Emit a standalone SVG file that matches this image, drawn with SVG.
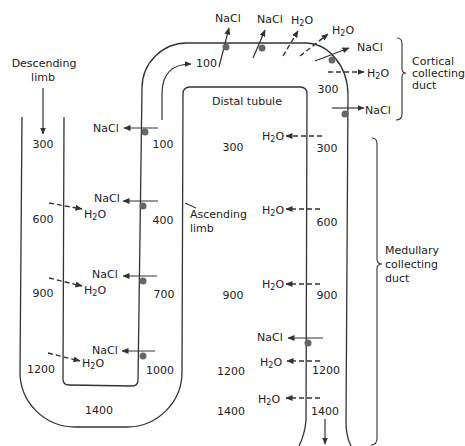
<svg xmlns="http://www.w3.org/2000/svg" width="465" height="446" viewBox="0 0 465 446">
<defs>
<marker id="ah" viewBox="0 0 7 6" markerWidth="7" markerHeight="6" refX="6.5" refY="3" orient="auto" markerUnits="userSpaceOnUse">
<path d="M0,0 L7,3 L0,6 z" fill="#333"/>
</marker>
</defs>
<style>
.wall{fill:none;stroke:#333;stroke-width:1.3}
.arr{fill:none;stroke:#333;stroke-width:1.2;marker-end:url(#ah)}
.dash{fill:none;stroke:#333;stroke-width:1.4;stroke-dasharray:5 3;marker-end:url(#ah)}
.brace{fill:none;stroke:#333;stroke-width:1.1}
.pump{fill:#666}
text{font-family:"DejaVu Sans","Liberation Sans",sans-serif;font-size:11px;fill:#222}
.m{text-anchor:middle}
.s{font-size:8px}
</style>
<rect width="465" height="446" fill="#fff"/>

<g id="tubule-walls">
<path class="wall" d="M22 117 L20 372 A55 55 0 0 0 75 427 L127 427 A55 55 0 0 0 182 372 L183 94 Q183 87 190 87 L300 87 Q307 87 307 94 L306 420 Q305 434 299 446"/>
<path class="wall" d="M64 117 L63 379 Q63 385 69 385 L132 386 Q138 386 138 380 L142 88 A45 45 0 0 1 187 43 L305 43 A43 52 0 0 1 348 95 L346 422 Q346 436 351 446"/>
</g>

<g id="braces">
<path class="brace" d="M397 38 Q402 38 402 44 L402 69 Q402 73 406 73 Q402 73 402 77 L402 114 Q402 120 396 120"/>
<path class="brace" d="M372 138 Q377 138 377 144 L377 259 Q377 264 382 264 Q377 264 377 269 L377 438 Q377 445 371 445"/>
</g>

<g id="connectors">
<line class="arr" x1="43" y1="88" x2="43" y2="134"/>
<path class="arr" d="M162 120 V94 Q162 64 191 64"/>
<line class="brace" x1="185" y1="203" x2="196" y2="208"/>
<!-- ascending limb NaCl out -->
<line class="arr" x1="158" y1="128" x2="124" y2="128"/>
<line class="arr" x1="158" y1="201" x2="123" y2="201"/>
<line class="arr" x1="157" y1="276" x2="123" y2="276"/>
<line class="arr" x1="155" y1="351" x2="122" y2="351"/>
<!-- descending limb water in -->
<line class="dash" x1="49" y1="203" x2="82" y2="209"/>
<line class="dash" x1="49" y1="278" x2="82" y2="286"/>
<line class="dash" x1="48" y1="353" x2="80" y2="361"/>
<!-- top distal -->
<line class="arr" x1="219" y1="67" x2="229" y2="28"/>
<line class="arr" x1="253" y1="58" x2="265" y2="30"/>
<line class="dash" x1="283" y1="56" x2="298" y2="31"/>
<line class="dash" x1="300" y1="56" x2="328" y2="34"/>
<line class="arr" x1="315" y1="61" x2="349" y2="48"/>
<line class="dash" x1="328" y1="72" x2="364" y2="72"/>
<line class="arr" x1="332" y1="108" x2="364" y2="108"/>
<!-- collecting duct -->
<line class="dash" x1="322" y1="136" x2="286" y2="136"/>
<line class="dash" x1="320" y1="209" x2="286" y2="209"/>
<line class="dash" x1="320" y1="284" x2="286" y2="284"/>
<line class="arr" x1="323" y1="338" x2="288" y2="338"/>
<line class="dash" x1="320" y1="361" x2="287" y2="361"/>
<line class="dash" x1="320" y1="398" x2="286" y2="398"/>
<line class="arr" x1="325" y1="419" x2="325" y2="444"/>
</g>

<g id="pumps">
<circle class="pump" cx="145" cy="132" r="3.5"/>
<circle class="pump" cx="143" cy="206" r="3.5"/>
<circle class="pump" cx="143" cy="281" r="3.5"/>
<circle class="pump" cx="143" cy="356" r="3.5"/>
<circle class="pump" cx="226" cy="47" r="3.5"/>
<circle class="pump" cx="262" cy="48" r="3.5"/>
<circle class="pump" cx="332" cy="60" r="3.5"/>
<circle class="pump" cx="345" cy="114" r="3.5"/>
<circle class="pump" cx="308" cy="343" r="3.5"/>
</g>

<g id="labels">
<text class="m" x="44" y="67">Descending</text>
<text class="m" x="43" y="81">limb</text>
<text x="190" y="218">Ascending</text>
<text x="190" y="232">limb</text>
<text x="212" y="105">Distal tubule</text>
<text x="412" y="65">Cortical</text>
<text x="412" y="77">collecting</text>
<text x="412" y="89">duct</text>
<text x="385" y="254">Medullary</text>
<text x="385" y="268">collecting</text>
<text x="385" y="282">duct</text>
</g>

<g id="osmolarity">
<text class="m" x="43" y="148">300</text>
<text class="m" x="43" y="223">600</text>
<text class="m" x="43" y="297">900</text>
<text class="m" x="41" y="373">1200</text>
<text class="m" x="99" y="414">1400</text>
<text class="m" x="163" y="148">100</text>
<text class="m" x="163" y="224">400</text>
<text class="m" x="164" y="298">700</text>
<text class="m" x="160" y="374">1000</text>
<text x="196" y="67">100</text>
<text class="m" x="233" y="151">300</text>
<text class="m" x="233" y="299">900</text>
<text class="m" x="231" y="375">1200</text>
<text class="m" x="231" y="415">1400</text>
<text class="m" x="328" y="93">300</text>
<text class="m" x="327" y="152">300</text>
<text class="m" x="327" y="226">600</text>
<text class="m" x="327" y="299">900</text>
<text class="m" x="326" y="374">1200</text>
<text class="m" x="325" y="415">1400</text>
</g>

<g id="solutes">
<text x="93" y="132">NaCl</text>
<text x="94" y="202">NaCl</text>
<text x="92" y="278">NaCl</text>
<text x="92" y="354">NaCl</text>
<text x="84" y="218">H<tspan class="s" dy="2">2</tspan><tspan dy="-2">O</tspan></text>
<text x="84" y="294">H<tspan class="s" dy="2">2</tspan><tspan dy="-2">O</tspan></text>
<text x="82" y="367">H<tspan class="s" dy="2">2</tspan><tspan dy="-2">O</tspan></text>
<text x="215" y="22">NaCl</text>
<text x="257" y="23">NaCl</text>
<text x="291" y="24">H<tspan class="s" dy="2">2</tspan><tspan dy="-2">O</tspan></text>
<text x="332" y="34">H<tspan class="s" dy="2">2</tspan><tspan dy="-2">O</tspan></text>
<text x="357" y="51">NaCl</text>
<text x="367" y="77">H<tspan class="s" dy="2">2</tspan><tspan dy="-2">O</tspan></text>
<text x="365" y="114">NaCl</text>
<text x="262" y="140">H<tspan class="s" dy="2">2</tspan><tspan dy="-2">O</tspan></text>
<text x="262" y="214">H<tspan class="s" dy="2">2</tspan><tspan dy="-2">O</tspan></text>
<text x="262" y="288">H<tspan class="s" dy="2">2</tspan><tspan dy="-2">O</tspan></text>
<text x="257" y="341">NaCl</text>
<text x="260" y="366">H<tspan class="s" dy="2">2</tspan><tspan dy="-2">O</tspan></text>
<text x="258" y="403">H<tspan class="s" dy="2">2</tspan><tspan dy="-2">O</tspan></text>
</g>
</svg>
